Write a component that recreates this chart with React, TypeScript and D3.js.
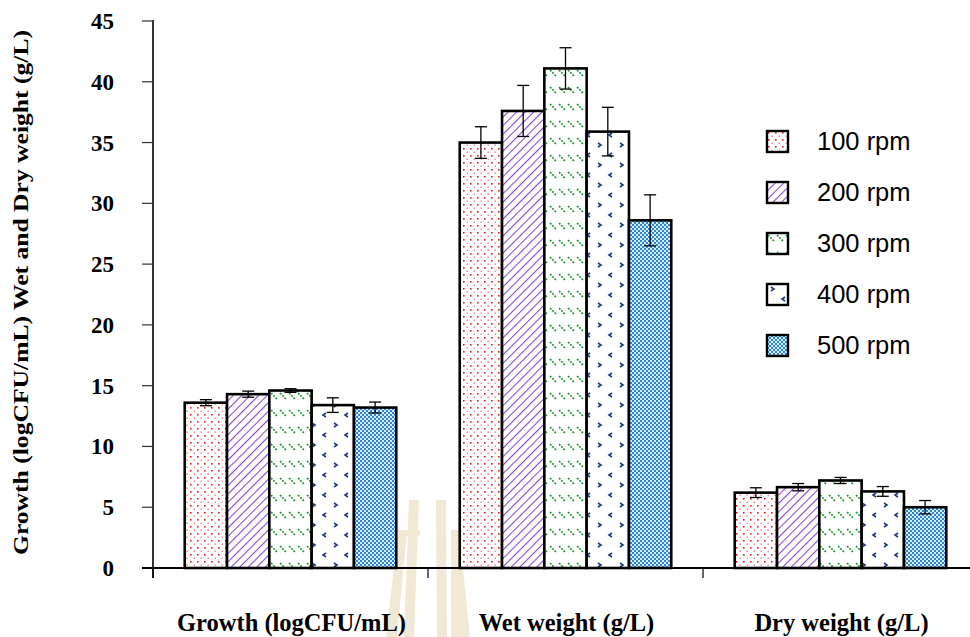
import React from "react";
import * as d3 from "d3";

const categories = ["Growth (logCFU/mL)", "Wet weight (g/L)", "Dry weight (g/L)"];
const seriesNames = ["100 rpm", "200 rpm", "300 rpm", "400 rpm", "500 rpm"];
// values[series][category]
const values = [
  [13.6, 35.0, 6.2],
  [14.3, 37.6, 6.65],
  [14.6, 41.1, 7.2],
  [13.4, 35.9, 6.3],
  [13.2, 28.6, 5.0],
];
const errors = [
  [0.25, 1.3, 0.4],
  [0.25, 2.1, 0.3],
  [0.15, 1.7, 0.25],
  [0.6, 2.0, 0.4],
  [0.45, 2.1, 0.55],
];
const yTicks = [0, 5, 10, 15, 20, 25, 30, 35, 40, 45];
const yTitle = "Growth (logCFU/mL) Wet and Dry weight (g/L)";

const W = 970, H = 637;
const x0 = 153, x1 = 978, yTop = 21, yBot = 568;

export default function App() {
  const x = d3.scaleBand<string>().domain(categories).range([x0, x1]).paddingInner(0).paddingOuter(0);
  const xs = d3.scaleBand<string>().domain(seriesNames).range([0, x.bandwidth()]).paddingInner(0).paddingOuter(0.75);
  const y = d3.scaleLinear().domain([0, 45]).range([yBot, yTop]);
  const serif = "'Liberation Serif', 'Times New Roman', serif";
  const sans = "'Liberation Sans', Arial, sans-serif";
  const wm = "#f1e8d6";

  return (
    <svg width={W} height={H} style={{ display: "block", position: "absolute", left: 0, top: 0 }}>
      <defs>
        <pattern id="p0" width="7" height="7" patternUnits="userSpaceOnUse">
          <rect width="7" height="7" fill="#fff" />
          <rect x="1" y="1" width="1.6" height="1.6" fill="#e02020" />
          <rect x="4.5" y="4.5" width="1.4" height="1.4" fill="#f08080" />
        </pattern>
        <pattern id="p1" width="6" height="6" patternUnits="userSpaceOnUse" patternTransform="rotate(45)">
          <rect width="6" height="6" fill="#fff" />
          <line x1="0" y1="0" x2="0" y2="6" stroke="#8a4cc4" strokeWidth="2.2" />
        </pattern>
        <pattern id="p2" width="9" height="17" patternUnits="userSpaceOnUse">
          <rect width="9" height="17" fill="#fff" />
          <line x1="1" y1="2" x2="7" y2="8" stroke="#1f9a2e" strokeWidth="1.7" strokeDasharray="2 1.2" />
        </pattern>
        <pattern id="p3" width="22" height="20" patternUnits="userSpaceOnUse">
          <rect width="22" height="20" fill="#fff" />
          <path d="M4 3 L7 5 L4 7" fill="none" stroke="#1f3a7a" strokeWidth="1.6" />
          <path d="M18 13 L15 15 L18 17" fill="none" stroke="#1f3a7a" strokeWidth="1.6" />
        </pattern>
        <pattern id="p4" width="4" height="4" patternUnits="userSpaceOnUse">
          <rect width="4" height="4" fill="#d8ecfa" />
          <rect x="0" y="0" width="2" height="2" fill="#2c86d1" />
          <rect x="2" y="2" width="2" height="2" fill="#2c86d1" />
        </pattern>
      </defs>

      {/* faint watermark */}
      <g fill={wm}>
        <polygon points="386,637 397,637 407,532 398,532" />
        <polygon points="398,530 420,530 420,536 398,536" />
        <polygon points="404,637 414,637 419,500 409,500" />
        <polygon points="437,637 447,637 446,500 436,500" />
        <polygon points="451,637 470,637 459,530 451,530" />
      </g>

      {/* y axis */}
      <line x1={x0} x2={x0} y1={yTop - 1} y2={yBot + 10} stroke="#000" strokeWidth={1.6} />
      {yTicks.map((t) => (
        <g key={t}>
          <line x1={x0 - 11} x2={x0} y1={y(t)} y2={y(t)} stroke="#333" strokeWidth={1.2} />
          <text x={114} y={y(t)} dy="0.35em" textAnchor="end" fontFamily={serif} fontWeight="bold" fontSize={23}>
            {t}
          </text>
        </g>
      ))}
      <text
        transform={`translate(28,${(30 + 555) / 2}) rotate(-90)`}
        textAnchor="middle"
        fontFamily={serif}
        fontWeight="bold"
        fontSize={21}
        textLength={525}
        lengthAdjust="spacingAndGlyphs"
      >
        {yTitle}
      </text>

      {/* bars */}
      {categories.map((c, ci) =>
        seriesNames.map((s, si) => {
          const bx = (x(c) as number) + (xs(s) as number);
          const v = values[si][ci];
          const e = errors[si][ci];
          const bw = xs.bandwidth();
          const cx = bx + bw / 2;
          return (
            <g key={c + s}>
              <rect x={bx} y={y(v)} width={bw} height={yBot - y(v)} fill={`url(#p${si})`} stroke="#000" strokeWidth={2.6} />
              <line x1={cx} x2={cx} y1={y(v + e)} y2={y(v - e)} stroke="#000" strokeWidth={1.3} />
              <line x1={cx - 6} x2={cx + 6} y1={y(v + e)} y2={y(v + e)} stroke="#000" strokeWidth={1.3} />
              <line x1={cx - 6} x2={cx + 6} y1={y(v - e)} y2={y(v - e)} stroke="#000" strokeWidth={1.3} />
            </g>
          );
        })
      )}

      {/* x axis */}
      <line x1={x0 - 11} x2={W} y1={yBot} y2={yBot} stroke="#000" strokeWidth={2} />
      {categories.map((c) => (
        <line key={c} x1={x(c) as number} x2={x(c) as number} y1={yBot} y2={yBot + 10} stroke="#000" strokeWidth={1.2} />
      ))}
      {categories.map((c) => (
        <text
          key={c + "l"}
          x={(x(c) as number) + x.bandwidth() / 2 + 1}
          y={631}
          textAnchor="middle"
          fontFamily={serif}
          fontWeight="bold"
          fontSize={24.5}
        >
          {c}
        </text>
      ))}

      {/* legend */}
      {seriesNames.map((s, i) => (
        <g key={s} transform={`translate(767,${131 + i * 51})`}>
          <rect x={0} y={0} width={21} height={21} fill={`url(#p${i})`} stroke="#000" strokeWidth={2.4} />
          <text x={50} y={10.5} dy="0.35em" fontFamily={sans} fontSize={25.5}>
            {s}
          </text>
        </g>
      ))}
    </svg>
  );
}
